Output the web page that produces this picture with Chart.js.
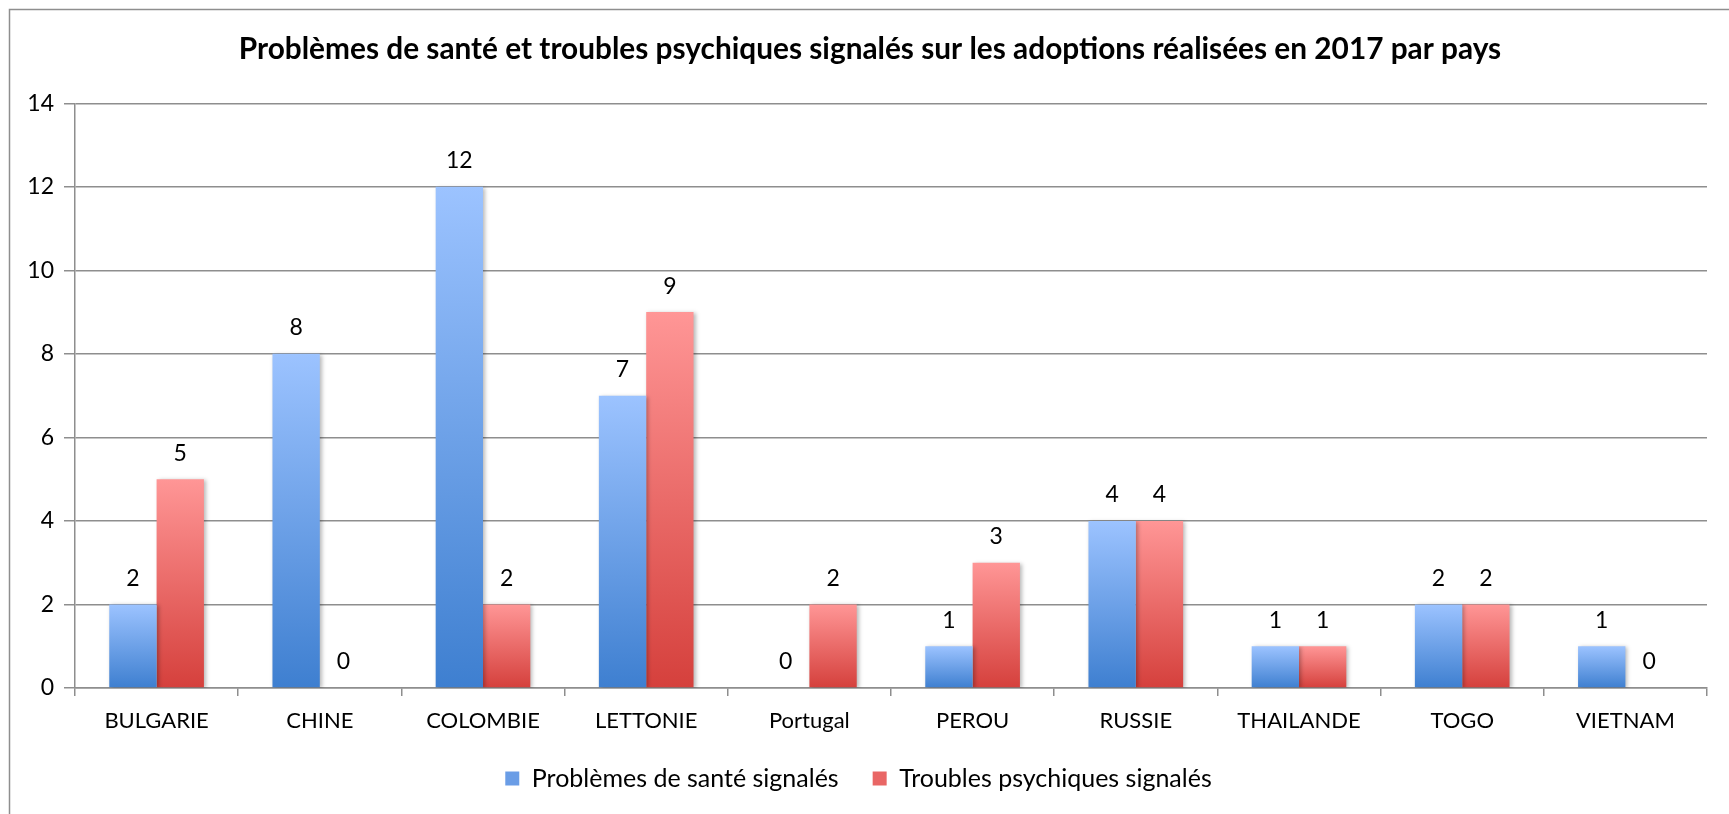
<!DOCTYPE html>
<html>
<head>
<meta charset="utf-8">
<script src="https://cdn.jsdelivr.net/npm/chart.js@4"></script>
<style>
  html, body { margin: 0; padding: 0; background: #fff; }
  #wrap { width: 1729px; height: 814px; position: relative; }
</style>
</head>
<body>
<div id="wrap"><canvas id="adoptionsChart"></canvas></div>
<script>
const titleText = "Problèmes de santé et troubles psychiques signalés sur les adoptions réalisées en 2017 par pays";
const categories = ["BULGARIE", "CHINE", "COLOMBIE", "LETTONIE", "Portugal", "PEROU", "RUSSIE", "THAILANDE", "TOGO", "VIETNAM"];
const santeValues = [2, 8, 12, 7, 0, 1, 4, 1, 2, 1];
const psychValues = [5, 0, 2, 9, 2, 3, 4, 1, 2, 0];
const seriesNames = ["Problèmes de santé signalés", "Troubles psychiques signalés"];
const yTicks = { min: 0, max: 14, step: 2 };

const FONT = "Lato, 'Noto Sans', sans-serif";
const GRID = "#8e8e8e";

function barGradient(top, bottom) {
    return function (ctx) {
        const chart = ctx.chart;
        if (ctx.type !== "data" || !chart.chartArea) return bottom;
        const y = chart.scales.y;
        const y0 = y.getPixelForValue(0);
        const y1 = y.getPixelForValue(ctx.raw);
        if (y0 - y1 < 1) return bottom;
        const g = chart.ctx.createLinearGradient(0, y1, 0, y0);
        g.addColorStop(0, top);
        g.addColorStop(1, bottom);
        return g;
    };
}

// outer frame (only left and top visible in the picture)
const framePlugin = {
    id: "frame",
    afterLayout(chart) {
        // the title sits a little right of the canvas centre
        chart.titleBlock.left += 23;
    },
    beforeDraw(chart) {
        const c = chart.ctx;
        c.save();
        c.strokeStyle = GRID;
        c.lineWidth = 1.5;
        c.beginPath();
        c.moveTo(9.5, chart.height + 5);
        c.lineTo(9.5, 9.5);
        c.lineTo(chart.width + 5, 9.5);
        c.stroke();
        c.restore();
    },
};

// soft shadow on the bars
const shadowPlugin = {
    id: "barShadow",
    beforeDatasetsDraw(chart) {
        const c = chart.ctx;
        c.save();
        c.shadowColor = "rgba(0,0,0,0.28)";
        c.shadowBlur = 4;
        c.shadowOffsetX = 2;
        c.shadowOffsetY = 1;
    },
    afterDatasetsDraw(chart) {
        chart.ctx.restore();
    },
};

// value labels above each bar
const valueLabels = {
    id: "valueLabels",
    afterDatasetsDraw(chart) {
        const c = chart.ctx;
        c.save();
        c.font = "23px " + FONT;
        c.fillStyle = "#000";
        c.textAlign = "center";
        c.textBaseline = "middle";
        chart.data.datasets.forEach((ds, i) => {
            chart.getDatasetMeta(i).data.forEach((bar, j) => {
                c.fillText(String(ds.data[j]), bar.x, bar.y - 26);
            });
        });
        c.restore();
    },
};

new Chart(document.getElementById("adoptionsChart"), {
    type: "bar",
    data: {
        labels: categories,
        datasets: [
            {
                label: seriesNames[0],
                data: santeValues,
                backgroundColor: barGradient("#9cc3ff", "#3e7fd0"),
                legendColor: "#6a9de6",
                borderWidth: 0,
            },
            {
                label: seriesNames[1],
                data: psychValues,
                backgroundColor: barGradient("#ff9696", "#d5403c"),
                legendColor: "#e96665",
                borderWidth: 0,
            },
        ],
    },
    options: {
        responsive: true,
        maintainAspectRatio: false,
        animation: false,
        layout: { padding: { left: 10, right: 22, top: 0, bottom: 23 } },
        datasets: {
            bar: { categoryPercentage: 0.58, barPercentage: 1.0 },
        },
        plugins: {
            title: {
                display: true,
                text: titleText,
                color: "#000",
                font: { family: FONT, size: 29.8, weight: "bold" },
                padding: { top: 32, bottom: 35.5 },
            },
            legend: {
                position: "bottom",
                maxHeight: 59,
                labels: {
                    color: "#000",
                    font: { family: FONT, size: 25 },
                    boxWidth: 14,
                    boxHeight: 14,
                    padding: 34,
                    generateLabels(chart) {
                        return chart.data.datasets.map((ds, i) => ({
                            text: ds.label,
                            fillStyle: ds.legendColor,
                            strokeStyle: ds.legendColor,
                            lineWidth: 0,
                            hidden: false,
                            datasetIndex: i,
                            fontColor: "#000",
                        }));
                    },
                },
            },
            tooltip: { enabled: false },
        },
        scales: {
            x: {
                afterFit(scale) { scale.height = 44; },
                grid: {
                    display: true,
                    drawOnChartArea: false,
                    color: GRID,
                    lineWidth: 1.5,
                    tickLength: 8,
                    offset: true,
                },
                border: { display: true, color: GRID, width: 1.5 },
                ticks: {
                    color: "#000",
                    font: { family: FONT, size: 22, lineHeight: 1 },
                    padding: 14,
                    maxRotation: 0,
                    autoSkip: false,
                },
            },
            y: {
                min: yTicks.min,
                max: yTicks.max,
                afterFit(scale) { scale.width = 65; },
                grid: {
                    color: GRID,
                    lineWidth: 1.5,
                    tickLength: 11,
                },
                border: { display: true, color: GRID, width: 1.5 },
                ticks: {
                    stepSize: yTicks.step,
                    color: "#000",
                    font: { family: FONT, size: 23 },
                    padding: 10,
                },
            },
        },
    },
    plugins: [framePlugin, shadowPlugin, valueLabels],
});
</script>
</body>
</html>
